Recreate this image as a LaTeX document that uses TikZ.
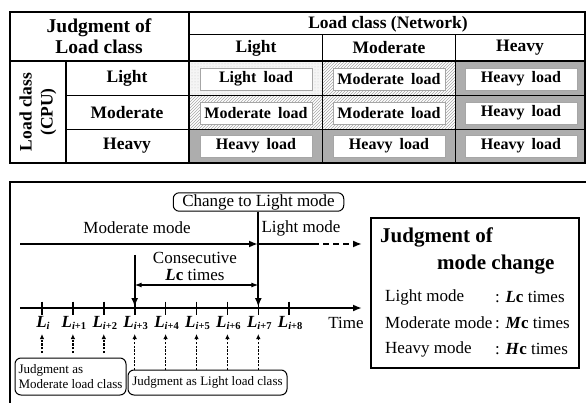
\documentclass[tikz,border=0pt]{standalone}
\usepackage{fontspec}
\setmainfont{Liberation Serif}
\usetikzlibrary{patterns,arrows.meta,calc}
\newcommand{\Lsub}[1]{L\raisebox{-0.35ex}{\fontsize{10.5}{11}\selectfont #1}}
\begin{document}
\begin{tikzpicture}[x=1pt,y=-1pt,
  tb/.style={font=\fontsize{17.5}{20}\selectfont\bfseries, inner sep=0pt},
  lightcell/.style={fill=gray!8, postaction={pattern=dots, pattern color=gray!45}},
  modcell/.style={fill=white, postaction={pattern=north east lines, pattern color=gray!70}},
  heavycell/.style={fill=gray!64},
  loadbox/.style={draw=gray!70, line width=0.8pt, fill=white, minimum width=112, minimum height=22, inner sep=0pt, font=\fontsize{16}{18}\selectfont\bfseries},
  txt/.style={font=\fontsize{17}{20}\selectfont, inner sep=0pt},
  small/.style={font=\fontsize{13}{15}\selectfont},
  lab/.style={font=\fontsize{17}{20}\selectfont\bfseries\itshape, inner sep=0pt},
  tip/.style={-{Latex[length=9pt,width=7pt]}},
  dtip/.style={-{Latex[length=5pt,width=4.5pt]}, line width=1.4pt, dash pattern=on 2.2pt off 1.5pt},
  rbox/.style={draw, line width=1pt, rounded corners=6pt}
]
\useasboundingbox (0,0) rectangle (586,403);
% ---------- table cells ----------
\path[lightcell] (190,61) rectangle (322,96);
\path[modcell]   (322,61) rectangle (455,96);
\path[heavycell] (455,61) rectangle (585,96);
\path[modcell]   (190,96) rectangle (322,130);
\path[modcell]   (322,96) rectangle (455,130);
\path[heavycell] (455,96) rectangle (585,130);
\path[heavycell] (190,130) rectangle (322,163);
\path[heavycell] (322,130) rectangle (455,163);
\path[heavycell] (455,130) rectangle (585,163);
% ---------- table lines ----------
\draw[line width=2pt] (10,12) rectangle (585,163);
\draw[line width=2.5pt] (10,61) -- (585,61);
\draw[line width=1pt] (189,35) -- (585,35);
\draw[line width=2.5pt] (189,12) -- (189,163);
\draw[line width=1.2pt] (66,61) -- (66,163);
\draw[line width=1pt] (322,35) -- (322,163);
\draw[line width=1pt] (455,35) -- (455,163);
\draw[line width=1pt] (66,96) -- (585,96);
\draw[line width=1pt] (66,130) -- (585,130);
% ---------- table texts ----------
\node[font=\fontsize{19.5}{21}\selectfont\bfseries, align=center, inner sep=0pt] (hjud) at (99,36) {Judgment of\\Load class};
\node[tb] (hnet) at (388,24) {Load class (Network)};
\node[tb] (cl) at (256,48) {Light};
\node[tb] (cm) at (389,48) {Moderate};
\node[tb] (ch) at (520,48) {Heavy};
\node[tb, rotate=90, align=center, font=\fontsize{17.5}{21}\selectfont\bfseries] (hcpu) at (38,112) {Load class\\(CPU)};
\node[tb] (rl) at (127,78) {Light};
\node[tb] (rm) at (127,113) {Moderate};
\node[tb] (rh) at (127,146) {Heavy};
\node[loadbox] (b11) at (256,79) {Light\hspace{0.45em}load};
\node[loadbox] (b12) at (389,79) {Moderate\hspace{0.45em}load};
\node[loadbox] (b13) at (521,79) {Heavy\hspace{0.45em}load};
\node[loadbox] (b21) at (256,113) {Moderate\hspace{0.45em}load};
\node[loadbox] (b22) at (389,113) {Moderate\hspace{0.45em}load};
\node[loadbox] (b23) at (521,113) {Heavy\hspace{0.45em}load};
\node[loadbox] (b31) at (256,146) {Heavy\hspace{0.45em}load};
\node[loadbox] (b32) at (389,146) {Heavy\hspace{0.45em}load};
\node[loadbox] (b33) at (521,146) {Heavy\hspace{0.45em}load};
% ---------- lower panel frame ----------
\draw[line width=2.5pt] (10,410) -- (10,182) -- (595,182);
% ---------- timeline ----------
\coordinate (ms) at (20,244);
\coordinate (chg) at (258,244);
\coordinate (lsol) at (313,244);
\coordinate (lend) at (362,244);
\node[txt] (tmod) at (137,228) {Moderate mode};
\node[txt] (tlig) at (301,228) {Light mode};
\node[rbox, txt, inner xsep=9pt, inner ysep=1.5pt] (cbox) at (258.5,202) {Change to Light mode};
\draw[line width=2.5pt, tip] (ms) -- (chg);
\draw[line width=2.5pt] (chg) -- (lsol);
\draw[line width=2pt, dash pattern=on 6pt off 4pt, tip] (lsol) -- (lend);
\coordinate (tl0) at (20,308);
\coordinate (tl1) at (362,308);
\draw[line width=2pt, tip] (tl0) -- (tl1);
\foreach \k/\s in {0/{\textit{i}},1/{\textit{i}\upshape+1},2/{\textit{i}\upshape+2},3/{\textit{i}\upshape+3},4/{\textit{i}\upshape+4},5/{\textit{i}\upshape+5},6/{\textit{i}\upshape+6},7/{\textit{i}\upshape+7},8/{\textit{i}\upshape+8}}{
  \coordinate (t\k) at ({42+30.9*\k},308);
  \draw[line width=1.6pt] ($(t\k)+(0,-6.5)$) -- ($(t\k)+(0,6.5)$);
  \node[lab] (L\k) at ($(t\k)+(1,15)$) {\Lsub{\s}};
}
\node[txt] (ttime) at (346,323) {Time};
% vertical arrows
\coordinate (v3top) at (t3 |- 0,255);
\draw[line width=2pt, tip] (cbox.south -| t7) -- ($(t7)+(0,-1)$);
\draw[line width=2pt, tip] (v3top) -- ($(t3)+(0,-1)$);
\coordinate (da) at (t3 |- 0,285);
\coordinate (db) at (t7 |- 0,285);
\draw[line width=1pt, {Latex[length=7pt,width=5pt]}-{Latex[length=7pt,width=5pt]}] (da) -- (db);
\node[txt, align=center, font=\fontsize{17}{17}\selectfont] (cons) at (195,266) {Consecutive\\\textbf{\textit{L}c} times};
% dotted arrows
\foreach \k in {0,1,2}{
  \draw[dtip] ($(t\k)+(0,45)$) -- ($(t\k)+(0,26)$);
}
\foreach \k in {3,4,5,6,7}{
  \draw[dtip] ($(t\k)+(0,62)$) -- ($(t\k)+(0,26)$);
}
\node[rbox, small, align=left, minimum width=111, minimum height=37, inner sep=2pt] (jm) at (70.5,376.5) {Judgment as\\Moderate load class};
\node[rbox, small, minimum width=159, minimum height=25, inner sep=2pt] (jl) at (207.5,382.5) {Judgment as Light load class};
% ---------- right box ----------
\node[draw, line width=1.2pt, minimum width=208, minimum height=150, inner sep=0pt] (jbox) at (475,293) {};
\node[font=\fontsize{21}{23}\selectfont\bfseries, anchor=west, inner sep=0pt] (j1) at (380,237) {Judgment of};
\node[font=\fontsize{21}{23}\selectfont\bfseries, anchor=west, inner sep=0pt] (j2) at (437,265) {mode change};
\node[txt, anchor=west] (m1) at (385,297) {Light mode};
\node[txt, anchor=west] (m2) at (385,323) {Moderate mode};
\node[txt, anchor=west] (m3) at (385,349) {Heavy mode};
\node[txt, anchor=west] (c1) at (495,297) {: \textbf{\textit{L}c} times};
\node[txt, anchor=west] (c2) at (495,323) {: \textbf{\textit{M}c} times};
\node[txt, anchor=west] (c3) at (495,349) {: \textbf{\textit{H}c} times};
\end{tikzpicture}
\end{document}
